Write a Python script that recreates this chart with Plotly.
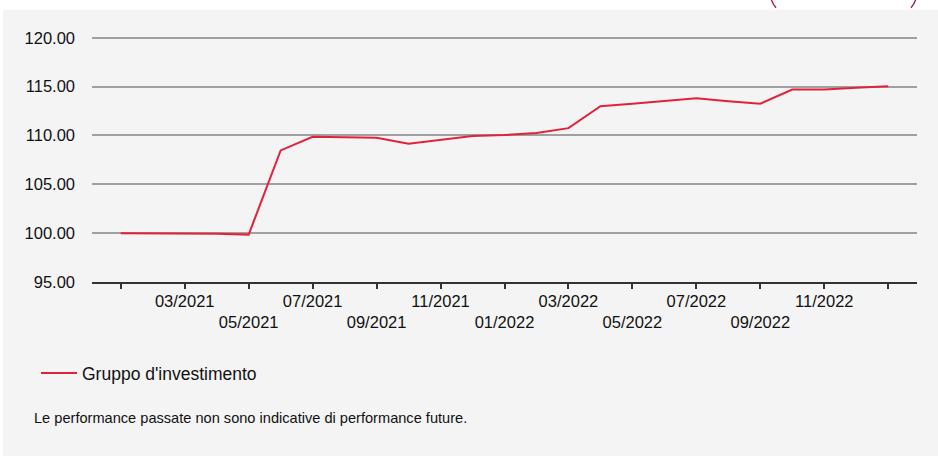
import plotly.graph_objects as go

months = ["01/2021","02/2021","03/2021","04/2021","05/2021","06/2021","07/2021","08/2021",
          "09/2021","10/2021","11/2021","12/2021","01/2022","02/2022","03/2022","04/2022",
          "05/2022","06/2022","07/2022","08/2022","09/2022","10/2022","11/2022","12/2022","01/2023"]
values = [100.0, 100.0, 100.0, 99.95, 99.85, 108.47, 109.87, 109.85, 109.77, 109.15,
          109.55, 109.95, 110.05, 110.25, 110.75, 113.0, 113.25, 113.5, 113.8, 113.5,
          113.25, 114.7, 114.7, 114.88, 115.05]
series_name = "Gruppo d'investimento"
tick_months = ["01/2021","03/2021","05/2021","07/2021","09/2021","11/2021","01/2022",
               "03/2022","05/2022","07/2022","09/2022","11/2022","01/2023"]
tick_labels = ["", "03/2021", "<br>05/2021", "07/2021", "<br>09/2021", "11/2021", "<br>01/2022",
               "03/2022", "<br>05/2022", "07/2022", "<br>09/2022", "11/2022", ""]
y_ticks = [95, 100, 105, 110, 115, 120]
footnote = "Le performance passate non sono indicative di performance future."

W, H = 938, 456
L, R, B = 92, 21, 174
T = 38 - 9.76
pw, ph = W - L - R, H - T - B

def px(x):
    return (x - L) / pw

def py(y):
    return (H - B - y) / ph

xs = list(range(len(months)))
tickvals = [months.index(m) for m in tick_months]

fig = go.Figure()
fig.add_trace(go.Scatter(x=xs, y=values, mode="lines", name=series_name,
                         line=dict(color="#e0233b", width=2), showlegend=True))

FONT = "Liberation Sans, Arial, sans-serif"
fig.update_layout(
    width=W, height=H,
    margin=dict(l=L, r=R, t=T, b=B),
    paper_bgcolor="#f4f4f4", plot_bgcolor="#f4f4f4",
    font=dict(family=FONT, size=16.5, color="#111111"),
    xaxis=dict(range=[-0.9, 24.9], tickmode="array", tickvals=tickvals, ticktext=tick_labels,
               showgrid=False, zeroline=False, showline=True, linecolor="#333333", linewidth=1.5,
               ticks="outside", ticklen=5, tickcolor="#333333", tickwidth=1.5,
               ticklabelstandoff=-2,
               tickfont=dict(size=16.5, color="#111111")),
    yaxis=dict(range=[95, 121], tickmode="array", tickvals=y_ticks,
               ticktext=[f"{v:.2f}" for v in y_ticks],
               showgrid=True, gridcolor="#a0a0a0", gridwidth=1.5, zeroline=False,
               showline=False, ticks="", ticklabelstandoff=16,
               tickfont=dict(size=16.5, color="#111111")),
    showlegend=True,
    legend=dict(orientation="h", x=px(36), y=py(373), xanchor="left", yanchor="middle",
                bgcolor="rgba(0,0,0,0)", font=dict(size=17.5, color="#111111"),
                itemwidth=36),
    shapes=[
        dict(type="rect", xref="paper", yref="paper", x0=px(0), x1=px(W), y0=py(10), y1=py(-2),
             fillcolor="white", line=dict(width=0), layer="above"),
        dict(type="rect", xref="paper", yref="paper", x0=px(-2), x1=px(3), y0=py(H + 2), y1=py(-2),
             fillcolor="white", line=dict(width=0), layer="above"),
        dict(type="path", xref="paper", yref="paper",
             path=f"M{px(771)},{py(-1)} Q{px(772.5)},{py(4)} {px(776)},{py(8)}",
             line=dict(color="#a3203a", width=1.4), layer="above"),
        dict(type="path", xref="paper", yref="paper",
             path=f"M{px(916)},{py(-1)} Q{px(914.5)},{py(4)} {px(911)},{py(8)}",
             line=dict(color="#a3203a", width=1.4), layer="above"),
    ],
    annotations=[
        dict(text=footnote, xref="paper", yref="paper", x=px(32), y=py(418),
             xanchor="left", yanchor="middle", showarrow=False,
             font=dict(size=14.6, color="#111111")),
    ],
)

fig.write_html("out.html", config={"displayModeBar": False},
               post_script="document.body.style.margin='0';")
